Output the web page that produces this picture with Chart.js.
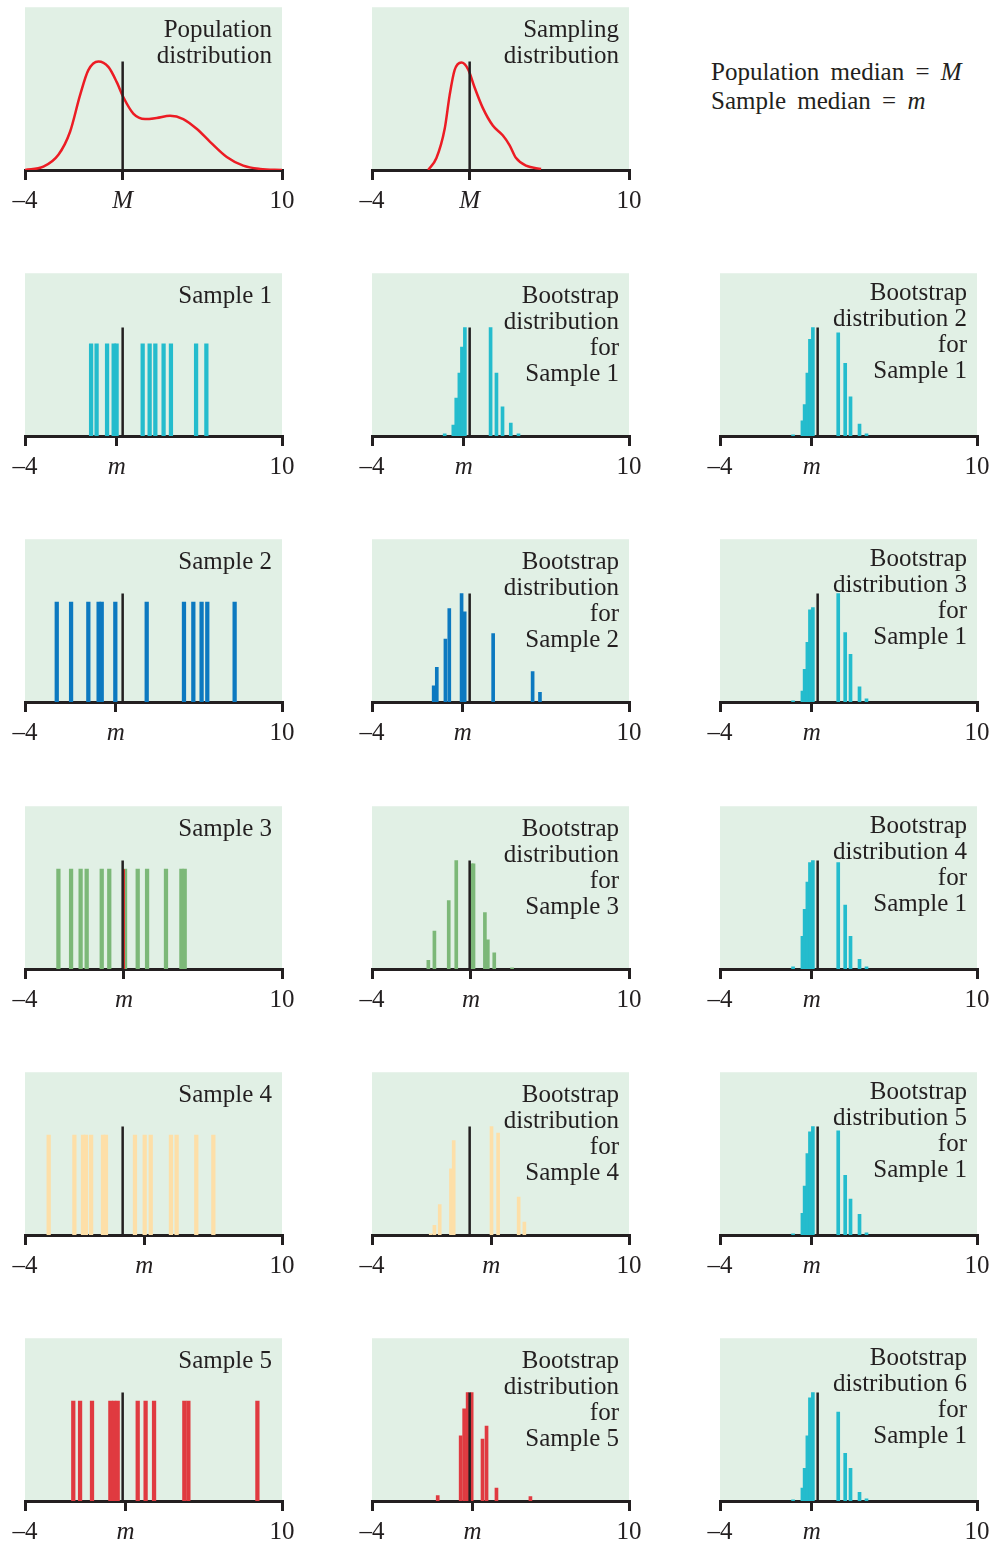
<!DOCTYPE html>
<html>
<head>
<meta charset="utf-8">
<script src="https://cdn.jsdelivr.net/npm/chart.js@4"></script>
<style>
  body { margin: 0; width: 1001px; height: 1547px; position: relative; overflow: hidden; background: #fff;
         font-family: "Liberation Serif", serif; color: #231f20; }
  .panel { position: absolute; }
  .title { position: absolute; width: 260px; text-align: right; font-size: 25px; line-height: 26px; white-space: pre; }
  .note { position: absolute; left: 711px; top: 57px; font-size: 25px; line-height: 29px; white-space: pre; word-spacing: 5px; }
</style>
</head>
<body>
<div class="note">Population median = <i>M</i>
Sample median = <i>m</i></div>
<script>
const INK = "#231f20";
const BG = "#e1f0e5";
const popMedian = 1.32;

// row 1 curves
const populationX = [-4, -3.0, -2.18, -1.55, -1.0, -0.55, 0.0, 0.54, 1.0, 1.36, 1.9, 2.54, 3.17, 3.9, 4.62, 5.35, 6.08, 6.99, 7.89, 8.8, 10];
const populationY = [0, 0.03, 0.14, 0.35, 0.69, 0.92, 1.0, 0.95, 0.81, 0.67, 0.52, 0.47, 0.48, 0.5, 0.47, 0.38, 0.26, 0.12, 0.04, 0.01, 0];
const samplingX = [-0.94, -0.49, -0.04, 0.23, 0.5, 0.87, 1.23, 1.59, 2.04, 2.58, 3.12, 3.49, 3.85, 4.39, 5.21];
const samplingY = [0, 0.11, 0.38, 0.69, 0.92, 0.99, 0.93, 0.76, 0.57, 0.41, 0.32, 0.23, 0.11, 0.04, 0.01];

// samples (column 1)
const sample1 = [-0.40, -0.10, 0.47, 0.83, 0.99, 2.41, 2.79, 3.10, 3.55, 3.95, 5.32, 5.88];
const sample2 = [-2.27, -1.49, -0.55, 0.01, 0.18, 0.92, 2.63, 4.66, 5.17, 5.62, 5.93, 7.42];
const sample3 = [-2.18, -1.49, -0.97, -0.64, 0.18, 0.59, 1.45, 2.14, 2.65, 3.68, 4.52, 4.70];
const sample4 = [-2.71, -1.31, -0.84, -0.68, -0.40, 0.25, 0.41, 1.99, 2.52, 2.85, 3.95, 4.26, 5.33, 6.26];
const sample5 = [-1.37, -1.0, -0.35, 0.65, 0.85, 1.05, 2.14, 2.57, 3.03, 4.68, 4.90, 8.66];
const sampleHeights = [0.85, 0.92, 0.92, 0.92, 0.92];
const sampleMedians = [1.0, 0.94, 1.39, 2.5, 1.47];
const sample3Mark = 1.4;

// bootstrap distributions for samples 1-5 (column 2)
const boot1X = [-0.04, 0.43, 0.59, 0.76, 0.90, 1.06, 2.46, 2.78, 3.11, 3.56, 3.98];
const boot1Y = [0.02, 0.10, 0.35, 0.58, 0.82, 1.0, 1.0, 0.58, 0.27, 0.12, 0.02];
const boot2X = [-0.64, -0.47, 0.0, 0.21, 0.88, 1.05, 2.60, 4.75, 5.15];
const boot2Y = [0.15, 0.32, 0.58, 0.86, 1.0, 0.83, 0.63, 0.28, 0.09];
const boot3X = [-0.93, -0.60, 0.18, 0.59, 1.43, 1.53, 2.15, 2.31, 2.66, 3.63];
const boot3Y = [0.08, 0.35, 0.63, 1.0, 0.97, 0.97, 0.52, 0.27, 0.15, 0.01];
const boot4X = [-0.80, -0.60, -0.31, 0.30, 0.45, 2.51, 2.87, 3.99, 4.30];
const boot4Y = [0.01, 0.09, 0.28, 0.61, 0.87, 1.0, 0.94, 0.35, 0.12];
const boot5X = [-0.42, 0.83, 1.02, 1.21, 1.43, 2.02, 2.24, 2.78, 4.63];
const boot5Y = [0.05, 0.6, 0.85, 1.0, 1.0, 0.57, 0.69, 0.12, 0.04];

// bootstrap distributions 2-6 for sample 1 (column 3)
const repX = [-0.02, 0.49, 0.61, 0.76, 0.90, 1.06, 2.44, 2.82, 3.11, 3.60, 3.98];
const rep2Y = [0.01, 0.14, 0.29, 0.58, 0.89, 1.0, 0.95, 0.67, 0.36, 0.11, 0.02];
const rep3Y = [0.01, 0.10, 0.30, 0.55, 0.85, 0.87, 1.0, 0.64, 0.44, 0.14, 0.03];
const rep4Y = [0.02, 0.30, 0.55, 0.80, 0.98, 1.0, 0.98, 0.59, 0.30, 0.09, 0.02];
const rep5Y = [0.01, 0.20, 0.45, 0.75, 0.95, 1.0, 0.96, 0.55, 0.33, 0.19, 0.02];
const rep6Y = [0.01, 0.12, 0.30, 0.60, 0.95, 1.0, 0.82, 0.44, 0.30, 0.08, 0.02];

const colors = ["#24bccd", "#0c79c0", "#7cb878", "#fddfa8", "#e03a40"];
const RED = "#ec1c24";

const colLeft = [25, 372, 720];
const rowTop = [7, 273, 539, 806, 1072, 1338];
const plotW = 257, plotH = 164;

const bgPlugin = {
  id: "bg",
  beforeDraw(chart) {
    const a = chart.chartArea, ctx = chart.ctx;
    ctx.save();
    ctx.fillStyle = BG;
    ctx.fillRect(a.left, a.top, a.right - a.left, a.bottom - a.top);
    ctx.restore();
  }
};

function medianLine() {
  return { type: "line", data: [{ x: popMedian, y: 0 }, { x: popMedian, y: 1 }],
    borderColor: INK, borderWidth: 2.5, pointRadius: 0, order: 0 };
}
function bars(xs, ys, color, w) {
  return { type: "bar", data: xs.map((x, i) => ({ x: x, y: Array.isArray(ys) ? ys[i] : ys })),
    backgroundColor: color, barThickness: w, grouped: false, order: 2 };
}
function curve(xs, ys) {
  return { type: "line", data: xs.map((x, i) => ({ x: x, y: ys[i] })), borderColor: RED,
    borderWidth: 2.5, pointRadius: 0, cubicInterpolationMode: "monotone", order: 1 };
}

function makePanel(col, row, datasets, tickValue, tickLabel, title, titleDy) {
  const wrap = document.createElement("div");
  wrap.className = "panel";
  const cv = document.createElement("canvas");
  cv.width = 320; cv.height = 230;
  wrap.appendChild(cv);
  document.body.appendChild(wrap);

  const chart = new Chart(cv, {
    type: "bar",
    data: { datasets: datasets },
    options: {
      responsive: false, maintainAspectRatio: false, animation: false, devicePixelRatio: 1,
      layout: { padding: { left: 20, right: 20, top: 0, bottom: 0 } },
      plugins: { legend: { display: false }, tooltip: { enabled: false } },
      scales: {
        x: {
          type: "linear", min: -4, max: 10, offset: false, z: 1,
          afterBuildTicks: s => { s.ticks = [-4, tickValue, 10].map(v => ({ value: v })); },
          ticks: {
            autoSkip: false, maxRotation: 0, padding: 6, color: INK,
            callback: (v, i) => i === 0 ? "\u20134" : i === 2 ? "10" : tickLabel,
            font: c => c.index === 1
              ? { family: "Liberation Serif", size: 25, style: "italic" }
              : { family: "Liberation Serif", size: 25 }
          },
          grid: { offset: false, drawOnChartArea: false, drawTicks: true, tickLength: 10, lineWidth: 3, color: INK },
          border: { display: true, width: 3, color: INK }
        },
        y: { display: false, min: 0, max: 1.5 }
      }
    },
    plugins: [bgPlugin]
  });

  let a = chart.chartArea;
  chart.resize(320 + plotW - (a.right - a.left), 230 + plotH - (a.bottom - a.top));
  a = chart.chartArea;
  wrap.style.left = (colLeft[col] - a.left) + "px";
  wrap.style.top = (rowTop[row] - a.top) + "px";

  const t = document.createElement("div");
  t.className = "title";
  t.textContent = title;
  t.style.left = (colLeft[col] + plotW - 10 - 260) + "px";
  t.style.top = (rowTop[row] + titleDy) + "px";
  document.body.appendChild(t);
}

// row 1
makePanel(0, 0, [curve(populationX, populationY), medianLine()], popMedian, "M", "Population\ndistribution", 9);
makePanel(1, 0, [curve(samplingX, samplingY), medianLine()], popMedian, "M", "Sampling\ndistribution", 9);

// samples and their bootstrap distributions
const samples = [sample1, sample2, sample3, sample4, sample5];
const bootX = [boot1X, boot2X, boot3X, boot4X, boot5X];
const bootY = [boot1Y, boot2Y, boot3Y, boot4Y, boot5Y];
const repY = [rep2Y, rep3Y, rep4Y, rep5Y, rep6Y];

samples.forEach((s, k) => {
  const row = k + 1;
  const ds = [bars(s, sampleHeights[k], colors[k], 3.6), medianLine()];
  if (k === 2) {
    ds.push({ type: "line", data: [{ x: sample3Mark, y: 0 }, { x: sample3Mark, y: sampleHeights[2] }],
      borderColor: RED, borderWidth: 1.5, pointRadius: 0, order: 1 });
  }
  makePanel(0, row, ds, sampleMedians[k], "m", "Sample " + (k + 1), 9);
  makePanel(1, row, [bars(bootX[k], bootY[k], colors[k], 3), medianLine()], sampleMedians[k], "m",
    "Bootstrap\ndistribution\nfor\nSample " + (k + 1), 9);
  makePanel(2, row, [bars(repX, repY[k], colors[0], 3), medianLine()], sampleMedians[0], "m",
    "Bootstrap\ndistribution " + (k + 2) + "\nfor\nSample 1", 6);
});
</script>
</body>
</html>
